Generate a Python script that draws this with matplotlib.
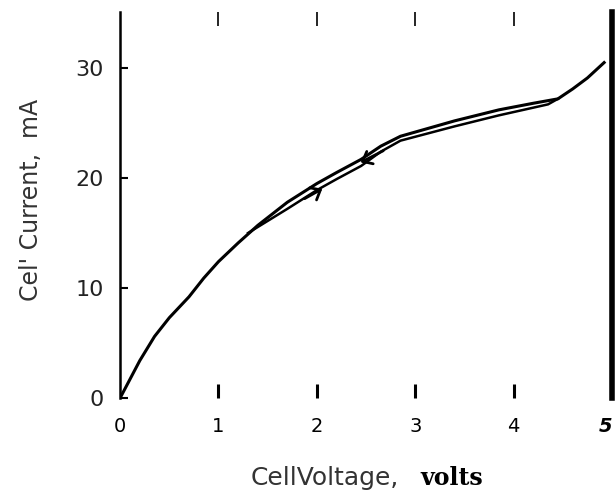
import matplotlib
matplotlib.use("Agg")
import matplotlib.pyplot as plt

# forward sweep (upper branch)
v_up = [0, 0.1, 0.2, 0.35, 0.5, 0.7, 0.85, 1.0, 1.2, 1.4, 1.7, 2.0, 2.2, 2.45, 2.65, 2.85,
        3.4, 3.85, 4.2, 4.45, 4.6, 4.75, 4.92]
i_up = [0, 1.7, 3.4, 5.6, 7.3, 9.2, 10.9, 12.4, 14.1, 15.7, 17.8, 19.5, 20.5, 21.7, 22.9, 23.8,
        25.2, 26.2, 26.8, 27.2, 28.1, 29.1, 30.5]
# return sweep (lower branch)
v_dn = [4.45, 4.35, 3.85, 3.4, 2.85, 2.65, 2.45, 2.2, 2.0, 1.7, 1.3]
i_dn = [27.2, 26.7, 25.7, 24.7, 23.4, 22.4, 21.1, 19.9, 18.9, 17.2, 15.0]

xticks = [0, 1, 2, 3, 4, 5]
xlabels = ['0', '1', '2', '3', '4', '5']
yticks = [0, 10, 20, 30]
ylabels = ['0', '10', '20', '30']

fig = plt.figure(figsize=(6.16, 4.99), dpi=100)
ax = fig.add_axes([0.195, 0.2024, 0.7985, 0.7736])

ax.plot(v_up, i_up, color='black', lw=2.2)
ax.plot(v_dn, i_dn, color='black', lw=1.8)

# direction arrows on the loop
ax.annotate('', xy=(2.08, 19.15), xytext=(1.85, 18.0),
            arrowprops=dict(arrowstyle='->,head_length=0.6,head_width=0.5', color='black', lw=2))
ax.annotate('', xy=(2.42, 21.3), xytext=(2.7, 22.6),
            arrowprops=dict(arrowstyle='->,head_length=0.6,head_width=0.5', color='black', lw=2))

ax.set_xlim(0, 5)
ax.set_ylim(0, 35.1)

ax.spines['top'].set_visible(False)
ax.spines['bottom'].set_visible(False)
ax.spines['left'].set_linewidth(1.8)
ax.spines['right'].set_linewidth(4)

ax.xaxis.remove_overlapping_locs = False
ax.set_xticks(xticks)
ax.set_xticklabels(xlabels, family='DejaVu Sans', fontsize=14)
ax.set_xticks([1, 2, 3, 4], minor=True)
ax.tick_params(axis='x', which='major', length=0, pad=14)
ax.tick_params(axis='x', which='minor', direction='in', length=10, width=2.2,
               top=True, bottom=True)
for t in ax.xaxis.get_minor_ticks():
    t.tick2line.set_markeredgewidth(1.2)
lab5 = ax.get_xticklabels()[-1]
lab5.set_fontweight('bold')
lab5.set_style('italic')
lab5.set_horizontalalignment('right')

ax.set_yticks(yticks)
ax.set_yticklabels(ylabels, family='DejaVu Sans', fontsize=16, color='#222222')
ax.tick_params(axis='y', direction='in', length=6, width=1.5, pad=12)

fig.text(0.05, 0.6, "Cel' Current,  mA", rotation=90, ha='center', va='center',
         fontsize=17, family='DejaVu Sans', color='#333333')
fig.text(0.647, 0.028, "CellVoltage,", ha='right', va='baseline',
         fontsize=18, family='DejaVu Sans', color='#333333')
fig.text(0.682, 0.028, "volts", ha='left', va='baseline',
         fontsize=17, family='DejaVu Serif', fontweight='bold')

fig.savefig('out.png', dpi=100)
